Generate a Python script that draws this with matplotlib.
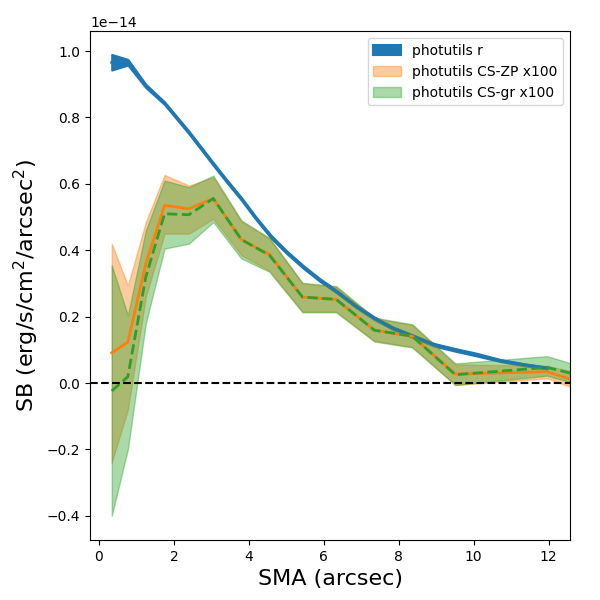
import matplotlib
matplotlib.use('Agg')
import matplotlib.pyplot as plt
import numpy as np

scale = 1e-14

# photutils r profile (finely sampled)
sma_r = [0.34, 0.77, 1.25, 1.75, 2.4, 3.05, 3.4, 3.8, 4.2, 4.6, 5.0, 5.45, 5.9,
         6.35, 6.85, 7.35, 7.85, 8.4, 8.95, 9.5, 10.1, 10.7, 11.35, 11.96]
sb_r_lo = [0.943, 0.958, 0.890, 0.839, 0.751, 0.656, 0.606, 0.551, 0.491, 0.436, 0.391,
           0.346, 0.306, 0.271, 0.228, 0.191, 0.161, 0.136, 0.111, 0.096, 0.081,
           0.065, 0.052, 0.042]
sb_r_hi = [0.990, 0.975, 0.900, 0.847, 0.759, 0.664, 0.614, 0.559, 0.499, 0.444, 0.399,
           0.354, 0.314, 0.279, 0.236, 0.199, 0.169, 0.144, 0.119, 0.104, 0.089,
           0.071, 0.058, 0.048]
sb_r = [0.966, 0.967, 0.895, 0.843, 0.755, 0.660, 0.610, 0.555, 0.495, 0.440, 0.395,
        0.350, 0.310, 0.275, 0.232, 0.195, 0.165, 0.140, 0.115, 0.100, 0.085,
        0.068, 0.055, 0.045]

# colour-corrected profiles (x100)
sma_cs = [0.34, 0.77, 1.25, 1.75, 2.4, 3.05, 3.8, 4.55, 5.43, 6.33, 7.35, 8.36,
          9.51, 11.96, 13.3]
zp = [0.091, 0.123, 0.36, 0.535, 0.525, 0.556, 0.432, 0.387, 0.259, 0.252, 0.159,
      0.141, 0.027, 0.034, -0.014]
zp_lo = [-0.24, -0.08, 0.26, 0.45, 0.45, 0.495, 0.385, 0.338, 0.215, 0.215, 0.127,
         0.109, -0.006, 0.014, -0.041]
zp_hi = [0.42, 0.294, 0.485, 0.627, 0.595, 0.62, 0.487, 0.435, 0.30, 0.29, 0.195,
         0.175, 0.056, 0.052, 0.017]
gr = [-0.024, 0.019, 0.32, 0.51, 0.507, 0.556, 0.432, 0.385, 0.259, 0.252, 0.159,
      0.141, 0.025, 0.047, 0.010]
gr_lo = [-0.40, -0.20, 0.18, 0.405, 0.42, 0.485, 0.375, 0.335, 0.213, 0.213, 0.125,
         0.107, -0.006, 0.022, -0.02]
gr_hi = [0.355, 0.204, 0.46, 0.61, 0.59, 0.625, 0.49, 0.437, 0.302, 0.292, 0.197,
         0.177, 0.059, 0.081, 0.035]

s = lambda v: np.array(v) * scale

fig, ax = plt.subplots(figsize=(6, 6), dpi=100)
fig.subplots_adjust(left=0.15, right=0.95, bottom=0.1, top=0.948)

ax.fill_between(sma_r, s(sb_r_lo), s(sb_r_hi), color='C0', lw=1.5, label='photutils r')
ax.plot(sma_r, s(sb_r), color='C0', lw=2)

ax.fill_between(sma_cs, s(zp_lo), s(zp_hi), color='C1', alpha=0.4, label='photutils CS-ZP x100')
ax.plot(sma_cs, s(zp), color='C1', lw=2)

ax.fill_between(sma_cs, s(gr_lo), s(gr_hi), color='C2', alpha=0.4, label='photutils CS-gr x100')
ax.plot(sma_cs, s(gr), color='C2', lw=2, ls='--')

ax.axhline(0, color='k', ls='--', lw=1.5)

ax.set_xlim(-0.24, 12.57)
ax.set_ylim(-0.473 * scale, 1.06 * scale)
ax.set_xlabel('SMA (arcsec)', fontsize=16)
ax.set_ylabel('SB (erg/s/cm$^2$/arcsec$^2$)', fontsize=16)
ax.legend(loc='upper right')

plt.savefig('out.png')
